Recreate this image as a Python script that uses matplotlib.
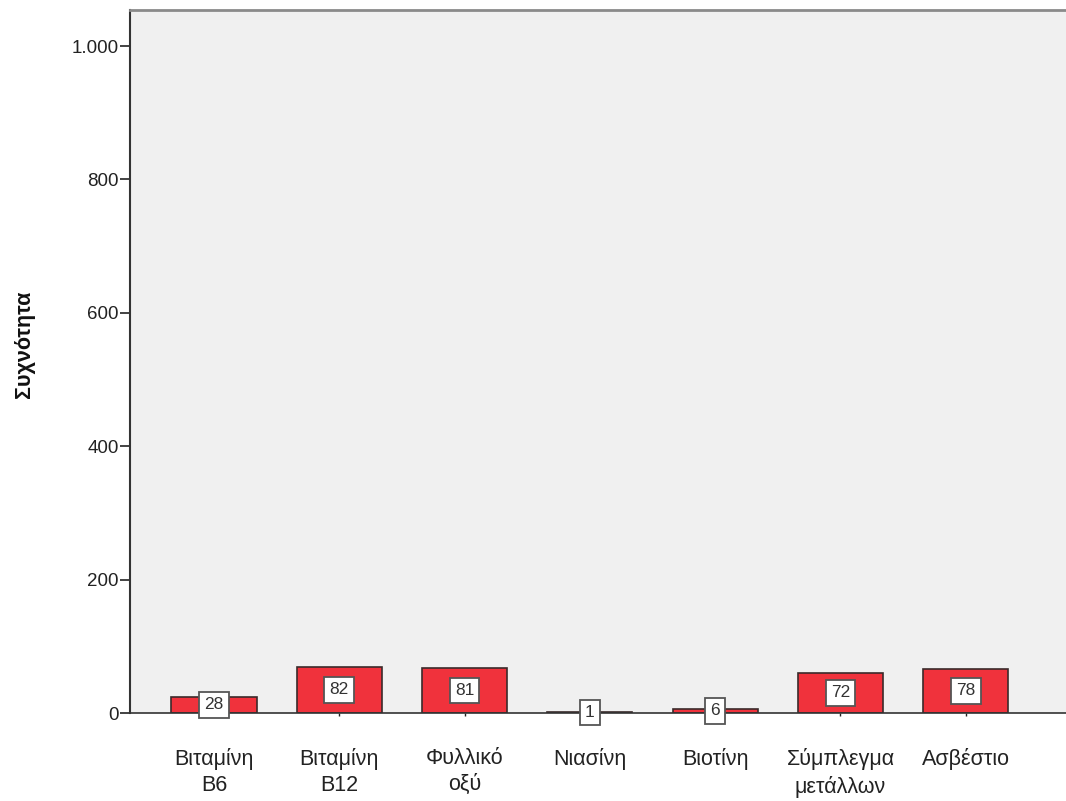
import matplotlib.pyplot as plt
import numpy as np

plt.rcParams['font.family'] = ['Liberation Sans', 'DejaVu Sans']

# categories and values
categories = ['Βιταμίνη\nB6', 'Βιταμίνη\nB12', 'Φυλλικό\nοξύ', 'Νιασίνη',
              'Βιοτίνη', 'Σύμπλεγμα\nμετάλλων', 'Ασβέστιο']
bar_heights = [24, 69, 67, 1, 6, 60, 66]
counts = [28, 82, 81, 1, 6, 72, 78]
yticks = [0, 200, 400, 600, 800, 1000]
ytick_labels = ['0', '200', '400', '600', '800', '1.000']

fig = plt.figure(figsize=(10.66, 8.01), dpi=100)
ax = fig.add_axes([130 / 1066, 1 - 713 / 801, 1 - 130 / 1066, (713 - 10) / 801])
ax.set_facecolor('#f0f0f0')

x = np.arange(len(categories))
bars = ax.bar(x, bar_heights, width=0.68, color='#f0323c', edgecolor='#3a2a2a', linewidth=1.2)

# value labels in white boxes at the middle of each bar
for xi, h, c in zip(x, bar_heights, counts):
    ax.text(xi, h / 2, str(c), ha='center', va='center', fontsize=12.5, color='#333333',
            bbox=dict(boxstyle='square,pad=0.3', facecolor='white', edgecolor='#555555', linewidth=1.3))

ax.set_xlim(-0.67, 6.8)
ax.set_ylim(0, 1054)
ax.set_yticks(yticks)
ax.set_yticklabels(ytick_labels)
ax.set_xticks(x)
ax.set_xticklabels(categories, linespacing=1.35)

ax.tick_params(axis='y', length=7, width=1.2, pad=1, labelsize=13.5, colors='#222222')
ax.tick_params(axis='x', length=2, width=1, pad=23, labelsize=15.5, colors='#222222')

ax.spines['right'].set_visible(False)
ax.spines['top'].set_color('#8a8a8a')
ax.spines['top'].set_linewidth(2)
ax.spines['left'].set_color('#333333')
ax.spines['left'].set_linewidth(1.5)
ax.spines['bottom'].set_color('#333333')
ax.spines['bottom'].set_linewidth(1.2)

fig.text(25 / 1066, 1 - 344 / 801, 'Συχνότητα', rotation=90, ha='center', va='center',
         fontsize=15.5, fontweight='bold', color='#111111')

plt.savefig('out.png', dpi=100)
